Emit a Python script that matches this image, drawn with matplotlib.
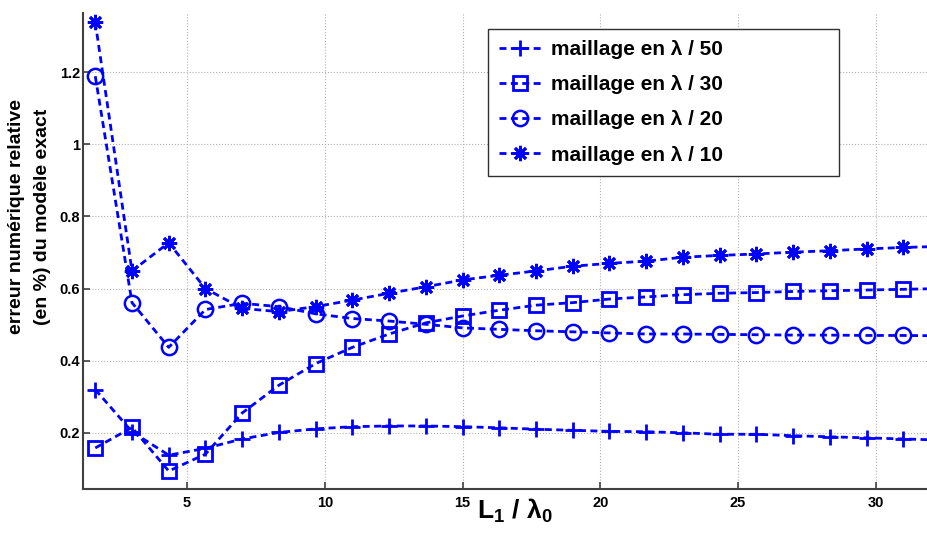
import matplotlib.pyplot as plt

plt.rcParams['font.family'] = ['Liberation Sans', 'DejaVu Sans']
plt.rcParams['mathtext.fontset'] = 'custom'
plt.rcParams['mathtext.bf'] = 'Liberation Sans:bold'
plt.rcParams['mathtext.rm'] = 'Liberation Sans:bold'

# L1 / lambda0 sample points
x_vals = [1.667, 3.0, 4.333, 5.667, 7.0, 8.333, 9.667, 11.0, 12.333, 13.667,
          15.0, 16.333, 17.667, 19.0, 20.333, 21.667, 23.0, 24.333, 25.667,
          27.0, 28.333, 29.667, 31.0, 32.333]

err_50 = [0.320, 0.203, 0.138, 0.157, 0.183, 0.201, 0.211, 0.217, 0.219, 0.219,
          0.217, 0.214, 0.210, 0.207, 0.204, 0.203, 0.200, 0.196, 0.196,
          0.192, 0.189, 0.186, 0.183, 0.180]
err_30 = [0.158, 0.215, 0.094, 0.141, 0.255, 0.332, 0.392, 0.437, 0.474, 0.505,
          0.524, 0.540, 0.554, 0.561, 0.571, 0.577, 0.583, 0.587, 0.589,
          0.592, 0.594, 0.596, 0.598, 0.600]
err_20 = [1.189, 0.561, 0.437, 0.542, 0.559, 0.550, 0.530, 0.517, 0.510, 0.501,
          0.491, 0.487, 0.483, 0.480, 0.477, 0.474, 0.474, 0.473, 0.472,
          0.471, 0.471, 0.470, 0.470, 0.469]
err_10 = [1.338, 0.649, 0.727, 0.600, 0.545, 0.536, 0.550, 0.568, 0.587, 0.605,
          0.624, 0.637, 0.649, 0.662, 0.670, 0.676, 0.687, 0.692, 0.696,
          0.701, 0.705, 0.710, 0.714, 0.717]

labels = ['maillage en λ / 50', 'maillage en λ / 30',
          'maillage en λ / 20', 'maillage en λ / 10']

fig = plt.figure(figsize=(9.27, 5.33), dpi=100)
ax = fig.add_axes([0.0892, 0.0831, 0.9108, 0.893])

blue = (0, 0, 1)
dash = (2.5, 1.6)
ax.plot(x_vals, err_50, color=blue, lw=2, dashes=dash, marker='+',
        ms=12, mew=2, label=labels[0])
ax.plot(x_vals, err_30, color=blue, lw=2, dashes=dash, marker='s',
        ms=9.5, mew=2, mfc='none', label=labels[1])
ax.plot(x_vals, err_20, color=blue, lw=2, dashes=dash, marker='o',
        ms=11, mew=1.8, mfc='none', label=labels[2])
ax.plot(x_vals, err_10, color=blue, lw=2, dashes=dash, marker=(8, 2, 0),
        ms=11, mew=2, label=labels[3])

ax.set_xlim(1.21, 31.86)
ax.set_ylim(0.045, 1.365)
ax.set_xticks([5, 10, 15, 20, 25, 30])
ax.set_yticks([0.2, 0.4, 0.6, 0.8, 1.0, 1.2])
ax.set_yticklabels(['0.2', '0.4', '0.6', '0.8', '1', '1.2'])

ax.grid(True, linestyle=':', linewidth=0.8, color='#b0b0b0')
ax.set_axisbelow(True)
for side in ['top', 'right']:
    ax.spines[side].set_visible(False)
for side in ['left', 'bottom']:
    ax.spines[side].set_color('#404040')
    ax.spines[side].set_linewidth(1.5)
ax.tick_params(direction='in', length=5, width=1.2, color='#404040',
               labelsize=10.5)
ax.tick_params(axis='x', pad=5)
ax.tick_params(axis='y', pad=2)
for t in ax.get_xticklabels() + ax.get_yticklabels():
    t.set_fontweight('bold')

ax.set_xlabel(r'$\mathbf{L_1}$ / $\mathbf{λ_0}$', fontsize=19,
              fontweight='bold')
ax.xaxis.set_label_coords(0.512, -0.018)
ax.set_ylabel('erreur numérique relative\n(en %) du modèle exact',
              fontsize=14, fontweight='bold', linespacing=1.7)
ax.yaxis.set_label_coords(-0.0635, 0.571)
ax.yaxis.label.set_va('center')

leg = ax.legend(loc='upper left', bbox_to_anchor=(0.480, 0.966, 0.416, 0.0),
                mode='expand',
                prop={'weight': 'bold', 'size': 15}, handlelength=2.0,
                fancybox=False, framealpha=1, borderaxespad=0,
                labelspacing=0.77, borderpad=0.55, handletextpad=0.5)
leg.get_frame().set_edgecolor('#303030')
leg.get_frame().set_linewidth(1.0)

fig.savefig('out.png', dpi=100)
